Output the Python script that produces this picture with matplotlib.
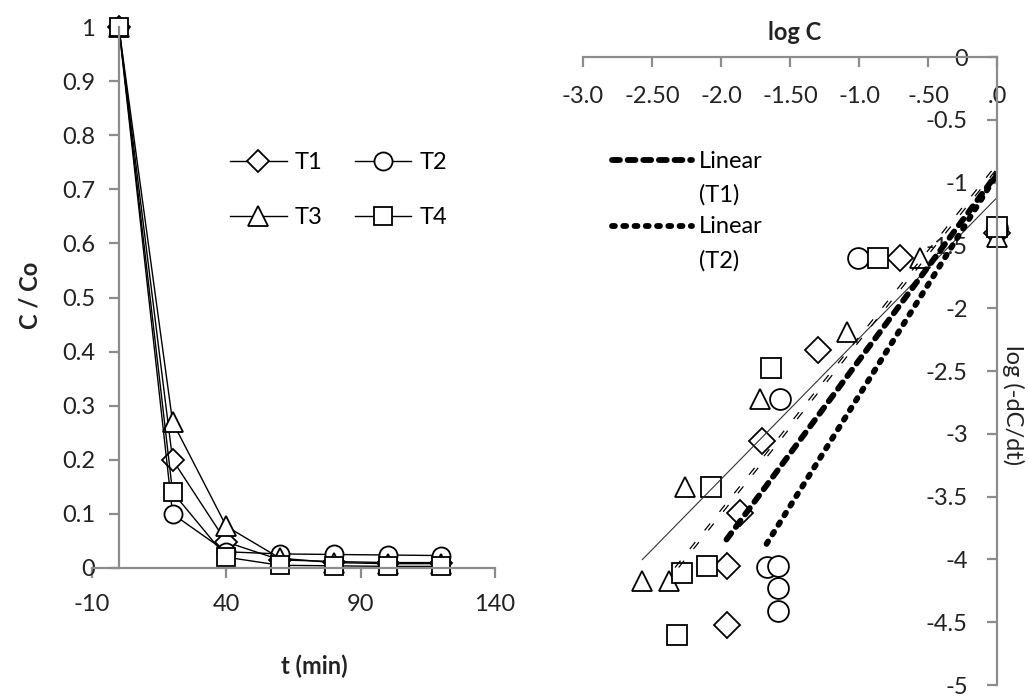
import numpy as np
import matplotlib
matplotlib.use('Agg')
import matplotlib.pyplot as plt
import matplotlib.transforms as mtransforms
from matplotlib.legend_handler import HandlerLine2D
from matplotlib.ticker import FixedLocator, FixedFormatter, FormatStrFormatter

plt.rcParams['font.family'] = ['Lato', 'DejaVu Sans']
plt.rcParams['font.size'] = 17
plt.rcParams['axes.unicode_minus'] = False

# left panel: C/Co against time
t = [0, 20, 40, 60, 80, 100, 120]
T1 = [1, 0.20, 0.048, 0.015, 0.012, 0.010, 0.010]
T2 = [1, 0.10, 0.030, 0.026, 0.025, 0.024, 0.023]
T3 = [1, 0.27, 0.077, 0.018, 0.010, 0.008, 0.008]
T4 = [1, 0.14, 0.020, 0.005, 0.004, 0.003, 0.003]

# right panel: log(-dC/dt) against log C
logC_T1 = [0, -0.70, -1.30, -1.70, -1.86, -1.96, -1.96]
rate_T1 = [-1.40, -1.60, -2.33, -3.06, -3.63, -4.05, -4.52]
logC_T2 = [0, -1.01, -1.57, -1.67, -1.59, -1.59, -1.59]
rate_T2 = [-1.36, -1.60, -2.72, -4.06, -4.05, -4.23, -4.41]
logC_T3 = [0, -0.56, -1.09, -1.72, -2.26, -2.57, -2.38]
rate_T3 = [-1.43, -1.60, -2.19, -2.72, -3.42, -4.17, -4.17]
logC_T4 = [0, -0.86, -1.64, -2.07, -2.28, -2.10, -2.32]
rate_T4 = [-1.35, -1.60, -2.48, -3.42, -4.11, -4.05, -4.60]

xticks_right = [-3.0, -2.5, -2.0, -1.5, -1.0, -0.5, 0.0]
xlabels_right = ['-3.0', '-2.50', '-2.0', '-1.50', '-1.0', '-.50', '.0']

W, H = 1029, 696
fig = plt.figure(figsize=(W / 100, H / 100), dpi=100)

axis_grey = '#8c8c8c'
mk = dict(color='black', markerfacecolor='white', markeredgecolor='black',
          markeredgewidth=1.3, clip_on=False)


class RaisedLine(HandlerLine2D):
    # puts the legend line level with the first line of a two-line label
    def __init__(self, dy, **kw):
        super().__init__(**kw)
        self.dy = dy

    def create_artists(self, legend, orig_handle, xdescent, ydescent,
                       width, height, fontsize, trans):
        arts = super().create_artists(legend, orig_handle, xdescent, ydescent,
                                      width, height, fontsize, trans)
        for a in arts:
            a.set_ydata(np.asarray(a.get_ydata()) + self.dy)
        return arts


# ---------------- left panel ----------------
ax1 = fig.add_axes([92 / W, (H - 568) / H, (495 - 92) / W, (568 - 27) / H])
series = [(T1, 'D', 11, 'T1'), (T2, 'o', 13, 'T2'), (T3, '^', 14, 'T3'), (T4, 's', 13, 'T4')]
handles = []
for y, m, ms, lab in series:
    h, = ax1.plot(t, y, marker=m, markersize=ms, lw=1, label=lab, **mk)
    handles.append(h)

ax1.set_xlim(-10, 140)
ax1.set_ylim(0, 1)
ax1.set_xticks([-10, 40, 90, 140])
ax1.set_yticks(np.arange(0, 1.01, 0.1))
ax1.yaxis.set_major_formatter(FormatStrFormatter('%g'))
ax1.spines['left'].set_position(('data', 0))
for s in ['top', 'right']:
    ax1.spines[s].set_visible(False)
for s in ['left', 'bottom']:
    ax1.spines[s].set_color(axis_grey)
    ax1.spines[s].set_linewidth(1.6)
ax1.tick_params(colors=axis_grey, labelcolor='#222222', length=7, width=1.6)
ax1.tick_params(axis='x', pad=12)
ax1.tick_params(axis='y', pad=10)

ax1.legend([handles[0], handles[2], handles[1], handles[3]],
           ['T1', 'T3', 'T2', 'T4'], ncol=2, frameon=False,
           loc='upper left', bbox_to_anchor=(230 / W, 1 - 152 / H),
           bbox_transform=fig.transFigure, borderpad=0, borderaxespad=0,
           handlelength=2.4, handletextpad=0.35, columnspacing=1.35,
           labelspacing=1.45)

fig.text(30 / W, 1 - 295 / H, 'C / Co', rotation=90, ha='center', va='center',
         fontweight='bold', color='#222222')
fig.text(314 / W, 1 - 666 / H, 't (min)', ha='center', va='center',
         fontweight='bold', color='#222222')

# ---------------- right panel ----------------
ax2 = fig.add_axes([583 / W, (H - 685) / H, (997 - 583) / W, (685 - 57) / H])
pts = [(logC_T1, rate_T1, 'D', 13), (logC_T2, rate_T2, 'o', 15),
       (logC_T3, rate_T3, '^', 15), (logC_T4, rate_T4, 's', 15)]
for x, y, m, ms in pts:
    ax2.plot(x, y, linestyle='none', marker=m, markersize=ms, **mk)


def trend(x, y):
    k, b = np.polyfit(x, y, 1)
    xs = np.array([min(x), max(x)])
    return xs, k * xs + b


# Excel-style linear trend lines
xs, ys = trend(logC_T3, rate_T3)
ax2.plot(xs, ys, color='#333333', lw=0.8)
xs, ys = trend(logC_T4, rate_T4)
for dx in (-1.3, 1.3):
    tr = mtransforms.offset_copy(ax2.transData, fig=fig, x=dx, y=0, units='points')
    ax2.plot(xs, ys, color='black', lw=0.9, linestyle=(0, (7, 12)), transform=tr)
xs, ys = trend(logC_T1, rate_T1)
l1, = ax2.plot(xs, ys, color='black', lw=4.2, linestyle=(0, (1.35, 1.33)),
               dash_capstyle='round', label='Linear\n(T1)')
xs, ys = trend(logC_T2, rate_T2)
l2, = ax2.plot(xs, ys, color='black', lw=4.2, linestyle=(0, (0.5, 1.43)),
               dash_capstyle='round', label='Linear\n(T2)')

ax2.set_xlim(-3, 0)
ax2.set_ylim(-5, 0)
ax2.xaxis.set_major_locator(FixedLocator(xticks_right))
ax2.xaxis.set_major_formatter(FixedFormatter(xlabels_right))
ax2.set_yticks(np.arange(-5, 0.01, 0.5))
ax2.yaxis.set_major_formatter(FormatStrFormatter('%g'))
ax2.spines['bottom'].set_position(('data', 0))
ax2.spines['left'].set_position(('data', 0))
for s in ['top', 'right']:
    ax2.spines[s].set_visible(False)
for s in ['left', 'bottom']:
    ax2.spines[s].set_color(axis_grey)
    ax2.spines[s].set_linewidth(1.6)
ax2.tick_params(colors=axis_grey, labelcolor='#222222', length=7, width=1.6)
ax2.tick_params(axis='x', pad=14)
ax2.tick_params(axis='y', pad=14)

leg2 = ax2.legend(handles=[l1, l2], frameon=False, loc='upper left',
                  bbox_to_anchor=(612 / W, 1 - 151 / H), bbox_transform=fig.transFigure,
                  borderpad=0, borderaxespad=0, handlelength=3.4, handletextpad=0.3,
                  labelspacing=0.45,
                  handler_map={l1: RaisedLine(13.3), l2: RaisedLine(13.3)})
for txt in leg2.get_texts():
    txt.set_linespacing(1.7)

fig.text(795 / W, 1 - 33 / H, 'log C', ha='center', va='center',
         fontweight='bold', color='#222222')
fig.text(1013 / W, 1 - 405 / H, 'log (-dC/dt)', rotation=-90, ha='center',
         va='center', color='#222222')

fig.savefig('out.png', dpi=100)
